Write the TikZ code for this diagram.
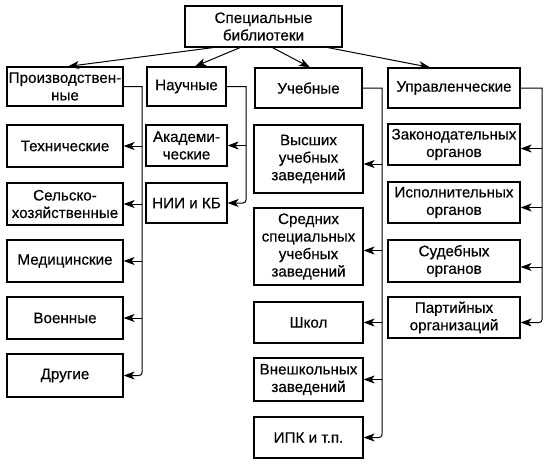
\documentclass[tikz,border=0pt]{standalone}
\usepackage{fontspec}
\setmainfont{Liberation Sans}
\newfontfamily\boxfont[FakeBold=0.35]{Liberation Sans}
\usetikzlibrary{arrows.meta}
\begin{document}
\begin{tikzpicture}[x=1pt,y=-1pt,
  box/.style={draw, line width=1.2pt, align=center, inner sep=0pt,
    font=\boxfont\fontsize{15.2}{17.5}\selectfont},
  arr/.style={line width=1pt, -{Stealth[length=11pt,width=8pt,inset=3pt]}}]
\useasboundingbox (0,0) rectangle (554,464);
% top
\node[box, minimum width=157, minimum height=41] (top) at (263.5,26.5) {Специальные\\библиотеки};
% categories
\node[box, minimum width=116, minimum height=39] (prod) at (65,86.5) {Производствен-\\ные};
\node[box, minimum width=79, minimum height=39] (nauch) at (186.5,86.5) {Научные};
\node[box, minimum width=107, minimum height=40] (ucheb) at (308.5,88) {Учебные};
\node[box, minimum width=132, minimum height=40] (uprav) at (454,88) {Управленческие};
% production children
\node[box, minimum width=116, minimum height=42] (tech) at (65,146) {Технические};
\node[box, minimum width=116, minimum height=42] (selsk) at (65,204) {Сельско-\\хозяйственные};
\node[box, minimum width=116, minimum height=42] (med) at (65,261) {Медицинские};
\node[box, minimum width=116, minimum height=42] (voen) at (65,318) {Военные};
\node[box, minimum width=116, minimum height=43] (drug) at (65,375.5) {Другие};
% science children
\node[box, minimum width=81, minimum height=41] (akad) at (186.5,145.5) {Академи-\\ческие};
\node[box, minimum width=81, minimum height=40] (nii) at (186.5,203) {НИИ и КБ};
% education children
\node[box, minimum width=109, minimum height=68] (vys) at (308.5,159) {Высших\\учебных\\заведений};
\node[box, minimum width=109, minimum height=77] (sred) at (308.5,246.5) {Средних\\специальных\\учебных\\заведений};
\node[box, minimum width=109, minimum height=41] (shk) at (308.5,322.5) {Школ};
\node[box, minimum width=109, minimum height=43] (vnesh) at (308.5,379.5) {Внешкольных\\заведений};
\node[box, minimum width=109, minimum height=41] (ipk) at (308.5,437.5) {ИПК и т.п.};
% management children
\node[box, minimum width=132, minimum height=41] (zak) at (454,144.5) {Законодательных\\органов};
\node[box, minimum width=132, minimum height=41] (isp) at (454,202.5) {Исполнительных\\органов};
\node[box, minimum width=132, minimum height=42] (sud) at (454,261) {Судебных\\органов};
\node[box, minimum width=132, minimum height=41] (part) at (454,317.5) {Партийных\\организаций};
% top arrows
\draw[arr] ([xshift=-50.5]top.south) -- ([xshift=3]prod.north);
\draw[arr] ([xshift=-23.5]top.south) -- ([xshift=8.5]nauch.north);
\draw[arr] ([xshift=9]top.south) -- ([xshift=1.5]ucheb.north);
\draw[arr] ([xshift=64.5]top.south) -- ([xshift=-24]uprav.north);
% bus coordinates
\coordinate (busP) at (142,86.5);
\coordinate (busN) at (246,86.5);
\coordinate (busU) at (382,88);
\coordinate (busR) at (542,88);
% production bus
\draw[arr] (prod.east) -- (busP) [rounded corners=3pt] |- (drug.east);
\draw[arr] (busP |- tech.east) -- (tech.east);
\draw[arr] (busP |- selsk.east) -- (selsk.east);
\draw[arr] (busP |- med.east) -- (med.east);
\draw[arr] (busP |- voen.east) -- (voen.east);
% science bus
\draw[arr] (nauch.east) -- (busN) [rounded corners=3pt] |- (nii.east);
\draw[arr] (busN |- akad.east) -- (akad.east);
% education bus
\draw[arr] (ucheb.east) -- (busU) [rounded corners=3pt] |- (ipk.east);
\draw[arr] ([yshift=-5]busU |- vys.east) -- ([yshift=-5]vys.east);
\draw[arr] ([yshift=-4]busU |- sred.east) -- ([yshift=-4]sred.east);
\draw[arr] (busU |- shk.east) -- (shk.east);
\draw[arr] (busU |- vnesh.east) -- (vnesh.east);
% management bus
\draw[arr] (uprav.east) -- (busR) [rounded corners=3pt] |- ([yshift=-5]part.east);
\draw[arr] ([yshift=-4]busR |- zak.east) -- ([yshift=-4]zak.east);
\draw[arr] ([yshift=-5]busR |- isp.east) -- ([yshift=-5]isp.east);
\draw[arr] ([yshift=-6]busR |- sud.east) -- ([yshift=-6]sud.east);
\end{tikzpicture}
\end{document}
